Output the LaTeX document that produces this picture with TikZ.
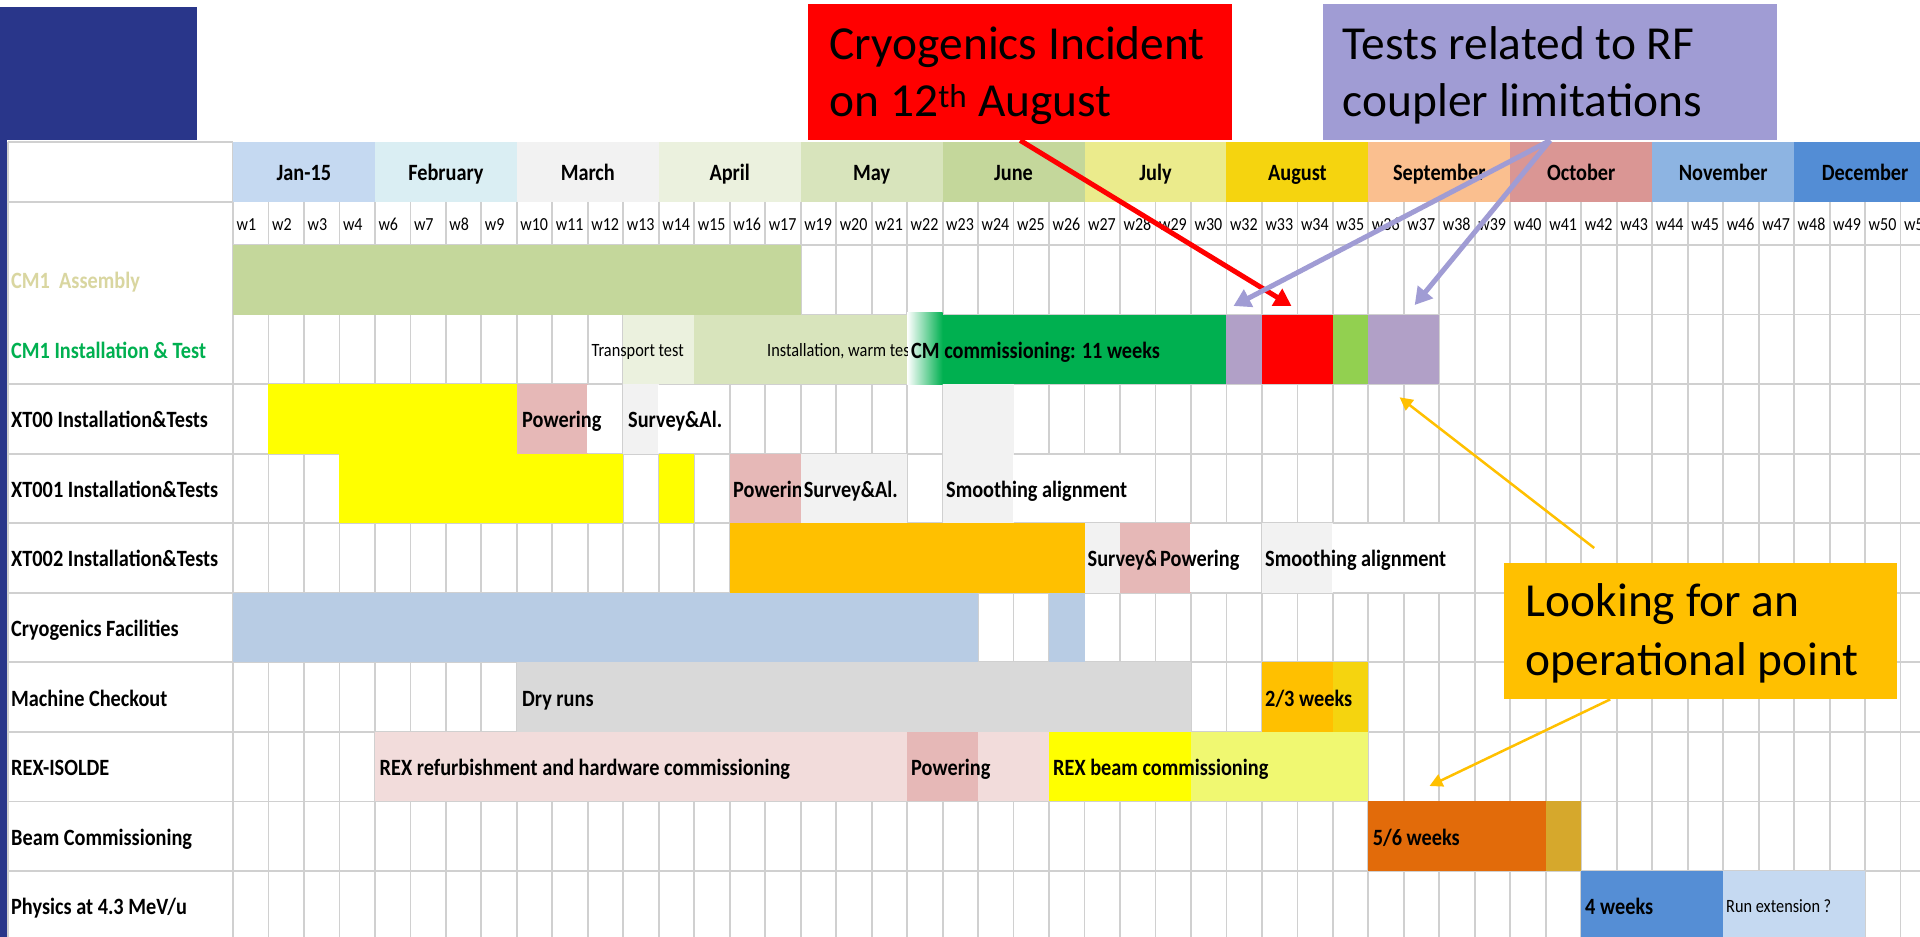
\documentclass[tikz,border=0pt]{standalone}
\usepackage{fontspec}
\setmainfont{Carlito}
\usepackage{graphicx}
\usetikzlibrary{arrows.meta}

\definecolor{slideblue}{RGB}{41,54,138}
\definecolor{gridc}{RGB}{208,208,208}
\definecolor{cJan}{HTML}{C5D9F1}
\definecolor{cFeb}{HTML}{DAEEF3}
\definecolor{cMar}{HTML}{F2F2F2}
\definecolor{cApr}{HTML}{EBF1DE}
\definecolor{cMay}{HTML}{D8E4BC}
\definecolor{cJun}{HTML}{C4D79B}
\definecolor{cJul}{HTML}{EBEB8C}
\definecolor{cAug}{HTML}{F5D40F}
\definecolor{cSep}{HTML}{FABF8F}
\definecolor{cOct}{HTML}{DA9694}
\definecolor{cNov}{HTML}{8DB4E2}
\definecolor{cDec}{HTML}{538DD5}
\definecolor{bAsm}{HTML}{C4D79B}
\definecolor{bTrans}{HTML}{EBF1DE}
\definecolor{bInst}{HTML}{D8E4BC}
\definecolor{bGreen}{HTML}{00B050}
\definecolor{bPurp}{HTML}{B1A0C7}
\definecolor{bRed}{HTML}{FF0000}
\definecolor{bLGreen}{HTML}{92D050}
\definecolor{bYel}{HTML}{FFFF00}
\definecolor{bPink}{HTML}{E6B8B7}
\definecolor{bGray}{HTML}{F2F2F2}
\definecolor{bOrange}{HTML}{FFC000}
\definecolor{bCryo}{HTML}{B8CCE4}
\definecolor{bDry}{HTML}{D9D9D9}
\definecolor{bLPink}{HTML}{F2DCDB}
\definecolor{bLYel}{HTML}{F0F871}
\definecolor{bDOr}{HTML}{E26B0A}
\definecolor{bGold}{HTML}{D6A82C}
\definecolor{bPhys}{HTML}{558ED5}
\definecolor{bRun}{HTML}{C5D9F1}
\definecolor{lblAsm}{RGB}{217,214,160}
\definecolor{annPurp}{RGB}{160,156,212}

\newcommand\TX[1]{\scalebox{1}[1.15]{#1}}
\newcommand\colx[1]{233+35.48*(#1)}
\newcommand\rowy[1]{245+69.55*(#1)}
\newcommand\bfnt{\fontsize{20.3}{24}\selectfont\bfseries}
\newcommand\rfnt{\fontsize{16.3}{19}\selectfont}
\newcommand\bigfnt{\fontsize{47.4}{57}\selectfont}
\newcommand\cellbar[4]{\fill[#4] ({\colx{#2}},{\rowy{#1}}) rectangle ({\colx{#3+1}},{\rowy{#1+1}});}
\newcommand\blank[3]{\fill[white] ({\colx{#2}-1},{\rowy{#1}+1}) rectangle ({\colx{#3+1}-0.95},{\rowy{#1+1}-1});}
\newcommand\btext[4]{\node[btxt] (#1) at (#3,{\rowy{#2+0.5}+9}) {\TX{#4}};}
\newcommand\stext[4]{\node[stxt] (#1) at (#3,{\rowy{#2+0.5}+7}) {\TX{#4}};}

\tikzset{
  gridl/.style={draw=gridc, line width=1.8pt},
  btxt/.style={anchor=base west, inner sep=0pt, font=\bfnt},
  stxt/.style={anchor=base west, inner sep=0pt, font=\rfnt},
  bigtxt/.style={anchor=base west, inner sep=0pt, font=\bigfnt},
  annbox/.style={anchor=north west, inner sep=0pt, minimum width=#1},
  redarr/.style={draw=bRed, line width=5pt, -{Triangle[length=17pt,width=19pt]}},
  purparr/.style={draw=annPurp, line width=5pt, -{Triangle[length=17pt,width=19pt]}},
  orarr/.style={draw=bOrange, line width=2.5pt, -{Triangle[length=13pt,width=13pt]}}
}

\begin{document}
\begin{tikzpicture}[x=1pt,y=-1pt]
\clip (0,0) rectangle (1920,937);
\fill[white] (0,0) rectangle (1920,937);
% slide decoration
\fill[slideblue] (0,7) rectangle (197,140);
\fill[slideblue] (0,140) rectangle (7,937);

% grid
\foreach \i in {0,...,48} \draw[gridl] ({\colx{\i}},202) -- ({\colx{\i}},940);
\foreach \r in {0,1} \draw[gridl] (233,{\rowy{\r}}) -- (1940,{\rowy{\r}});
\foreach \r in {2,...,9} \draw[gridl] (8,{\rowy{\r}}) -- (1940,{\rowy{\r}});
\draw[gridl] (8,142) -- (233,142);
\draw[gridl] (8,202) -- (233,202);
\draw[gridl] (233,142) -- (233,202);
\draw[gridl] (8,142) -- (8,940);

% months
\foreach \mn/\mc [count=\k from 0] in {Jan-15/cJan,February/cFeb,March/cMar,April/cApr,May/cMay,June/cJun,July/cJul,August/cAug,September/cSep,October/cOct,November/cNov,December/cDec}{
  \fill[\mc] ({\colx{4*\k}},142) rectangle ({\colx{4*\k+4}},202);
  \node[anchor=base, inner sep=0pt, font=\bfnt] (mon\k) at ({\colx{4*\k+2}},180) {\TX{\mn}};
}
% weeks
\foreach \wl [count=\i from 0] in {1,2,3,4,6,7,8,9,10,11,12,13,14,15,16,17,19,20,21,22,23,24,25,26,27,28,29,30,32,33,34,35,36,37,38,39,40,41,42,43,44,45,46,47,48,49,50,51}
  \node[anchor=base west, inner sep=0pt, font=\fontsize{16}{19}\selectfont] (wk\i) at ({\colx{\i}+3.4},230) {\TX{w\wl}};

% bars
\cellbar{0}{0}{15}{bAsm}
\cellbar{1}{11}{12}{bTrans}
\cellbar{1}{13}{18}{bInst}
\shade[left color=white, right color=bGreen] ({\colx{19}},{\rowy{1}-2}) rectangle ({\colx{20}},{\rowy{2}});
\cellbar{1}{20}{27}{bGreen}
\cellbar{1}{28}{28}{bPurp}
\cellbar{1}{29}{30}{bRed}
\cellbar{1}{31}{31}{bLGreen}
\cellbar{1}{32}{33}{bPurp}
\cellbar{2}{1}{7}{bYel}
\cellbar{2}{8}{9}{bPink}
\cellbar{2}{11}{11}{bGray}
\cellbar{2}{20}{21}{bGray}
\cellbar{3}{3}{10}{bYel}
\cellbar{3}{12}{12}{bYel}
\cellbar{3}{14}{15}{bPink}
\cellbar{3}{16}{18}{bGray}
\cellbar{3}{20}{21}{bGray}
\cellbar{4}{14}{23}{bOrange}
\cellbar{4}{24}{24}{bGray}
\cellbar{4}{25}{26}{bPink}
\cellbar{4}{29}{30}{bGray}
\cellbar{5}{0}{20}{bCryo}
\cellbar{5}{23}{23}{bCryo}
\cellbar{6}{8}{26}{bDry}
\cellbar{6}{29}{30}{bOrange}
\cellbar{6}{31}{31}{cAug}
\cellbar{7}{4}{18}{bLPink}
\cellbar{7}{19}{20}{bPink}
\cellbar{7}{21}{22}{bLPink}
\cellbar{7}{23}{26}{bYel}
\cellbar{7}{27}{31}{bLYel}
\cellbar{8}{32}{36}{bDOr}
\cellbar{8}{37}{37}{bGold}
\cellbar{9}{38}{41}{bPhys}
\cellbar{9}{42}{45}{bRun}

% cells covered by overflowing text
\blank{2}{10}{10}
\blank{2}{12}{13}
\blank{3}{22}{25}
\blank{4}{27}{28}
\blank{4}{31}{34}

% row labels
\node[btxt, text=lblAsm] (l0) at (11,{\rowy{0.5}+9}) {\TX{CM1\ \ Assembly}};
\node[btxt, text=bGreen] (l1) at (11,{\rowy{1.5}+9}) {\TX{CM1 Installation \& Test}};
\btext{l2}{2}{11}{XT00 Installation\&Tests}
\btext{l3}{3}{11}{XT001 Installation\&Tests}
\btext{l4}{4}{11}{XT002 Installation\&Tests}
\btext{l5}{5}{11}{Cryogenics Facilities}
\btext{l6}{6}{11}{Machine Checkout}
\btext{l7}{7}{11}{REX-ISOLDE}
\btext{l8}{8}{11}{Beam Commissioning}
\btext{l9}{9}{11}{Physics at 4.3 MeV/u}

% bar texts
\stext{t1a}{1}{591.5}{Transport test}
\begin{scope}
  \clip (0,0) rectangle ({\colx{19}},937);
  \stext{t1b}{1}{767}{Installation, warm tests}
\end{scope}
\btext{t1c}{1}{911}{CM commissioning: 11 weeks}
\btext{t2a}{2}{522}{Powering}
\btext{t2b}{2}{628}{Survey\&Al.}
\begin{scope}
  \clip (0,0) rectangle ({\colx{16}},937);
  \btext{t3a}{3}{733}{Powering}
\end{scope}
\btext{t3b}{3}{803.6}{Survey\&Al.}
\btext{t3c}{3}{946}{Smoothing alignment}
\begin{scope}
  \clip (0,0) rectangle ({\colx{26}},937);
  \btext{t4a}{4}{1087.5}{Survey\&Al.}
\end{scope}
\btext{t4b}{4}{1160}{Powering}
\btext{t4c}{4}{1265}{Smoothing alignment}
\btext{t6a}{6}{522}{Dry runs}
\btext{t6b}{6}{1265}{2/3 weeks}
\btext{t7a}{7}{379.5}{REX refurbishment and hardware commissioning}
\btext{t7b}{7}{911}{Powering}
\btext{t7c}{7}{1053}{REX beam commissioning}
\btext{t8a}{8}{1372.6}{5/6 weeks}
\btext{t9a}{9}{1585}{4 weeks}
\stext{t9b}{9}{1726}{Run extension ?}

% annotation boxes
\node[annbox=424pt, minimum height=136pt, fill=bRed] (redbox) at (808,4) {};
\node[bigtxt] (redt1) at (829.5,59.5) {Cryogenics Incident};
\node[bigtxt] (redt2) at (829.5,116.5) {on 12\textsuperscript{th} August};

\node[annbox=454pt, minimum height=136pt, fill=annPurp] (purpbox) at (1323,4) {};
\node[bigtxt] (purt1) at (1342.7,59.5) {Tests related to RF};
\node[bigtxt] (purt2) at (1342.7,116) {coupler limitations};

\node[annbox=393pt, minimum height=136pt, fill=bOrange] (obox) at (1504,563) {};
\node[bigtxt] (ort1) at (1525.6,616.7) {Looking for an};
\node[bigtxt] (ort2) at (1525.6,675) {operational point};

% arrow targets
\coordinate (redtip) at (1291.5,306);
\coordinate (ptip1) at (1233.5,306);
\coordinate (ptip2) at (1414.7,305);
\coordinate (otip1) at (1399.6,397.3);
\coordinate (otip2) at (1429.5,786);

\draw[redarr] (redbox.south) -- (redtip);
\draw[purparr] (purpbox.south) -- (ptip1);
\draw[purparr] (purpbox.south) -- (ptip2);
\draw[orarr] ([xshift=-106.5pt,yshift=15pt]obox.north) -- (otip1);
\draw[orarr] ([xshift=-90.5pt]obox.south) -- (otip2);
\end{tikzpicture}
\end{document}
